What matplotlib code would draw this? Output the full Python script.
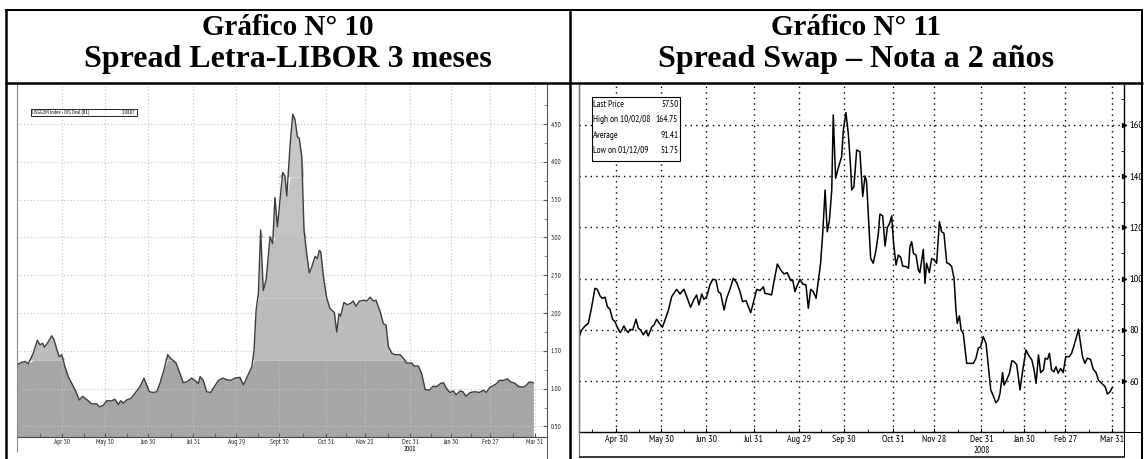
import numpy as np
import matplotlib
matplotlib.use("Agg")
import matplotlib.pyplot as plt
from matplotlib.lines import Line2D
from matplotlib.patches import Rectangle
import matplotlib.transforms as mtransforms
import logging
logging.getLogger("matplotlib.font_manager").setLevel(logging.ERROR)

# ---------------- data ----------------
tick_idx = [22, 43, 64, 86, 107, 128, 151, 170, 192, 212, 231, 253]
left_tick_labels = ["Apr 30", "May 30", "Jun 30", "Jul 31", "Aug 29", "Sept 30",
                    "Oct 31", "Nov 28", "Dec 31", "Jan 30", "Feb 27", "Mar 31"]
right_tick_labels = ["Apr 30", "May 30", "Jun 30", "Jul 31", "Aug 29", "Sep 30",
                     "Oct 31", "Nov 28", "Dec 31", "Jan 30", "Feb 27", "Mar 31"]
year_label = "2008"

left_yticks = [0.5, 1.0, 1.5, 2.0, 2.5, 3.0, 3.5, 4.0, 4.5]
right_yticks = [60, 80, 100, 120, 140, 160]

# Spread Letra-LIBOR 3m (trading-day index, value)
left_x = [0.0, 1.3, 3.8, 5.4, 7.8, 9.8, 11.1, 12.4, 13.2, 14.7, 16.8, 17.9, 19.2, 20.5,
          21.7, 23.3, 24.9, 26.6, 28.7, 30.3, 31.9, 34.2, 36.3, 38.8, 40.1, 42.0, 43.7,
          46.1, 47.7, 49.4, 50.5, 51.8, 53.4, 55.4, 57.5, 60.0, 61.9, 63.2, 64.5, 66.5,
          68.1, 69.7, 71.7, 73.5, 74.9, 76.3, 77.6, 79.5, 81.1, 82.8, 85.2, 86.8, 88.5,
          89.3, 90.9, 92.5, 94.5, 96.6, 98.3, 100.4, 102.3, 104.3, 106.4, 108.8, 110.5,
          112.4, 114.6, 115.7, 116.7, 117.8, 118.9, 120.2, 121.6, 123.5, 124.8, 125.9,
          127.1, 129.7, 130.8, 131.7, 133.3, 134.6, 135.7, 136.9, 137.8, 139.0, 140.1,
          141.4, 142.7, 143.9, 145.5, 146.6, 147.6, 148.3, 149.6, 151.2, 152.8, 154.1,
          154.9, 156.1, 157.2, 158.0, 159.6, 161.3, 162.9, 164.2, 165.5, 167.2, 169.4,
          170.8, 172.4, 174.0, 175.3, 177.3, 178.9, 180.2, 181.3, 183.0, 184.6, 187.1,
          188.7, 190.3, 192.8, 193.9, 196.0, 197.6, 199.3, 201.4, 203.0, 205.0, 206.9,
          208.2, 209.8, 211.5, 213.1, 214.4, 216.4, 217.7, 219.3, 221.3, 223.7, 225.8,
          227.8, 229.1, 231.0, 232.7, 234.3, 235.6, 237.6, 239.5, 241.1, 243.3, 244.9,
          247.3, 248.9, 250.2, 252.2]
left_v = [1.31, 1.34, 1.36, 1.33, 1.47, 1.64, 1.58, 1.60, 1.55, 1.60, 1.70, 1.65, 1.53, 1.42,
          1.45, 1.29, 1.16, 1.07, 0.96, 0.85, 0.90, 0.85, 0.80, 0.80, 0.76, 0.78, 0.84,
          0.84, 0.86, 0.79, 0.84, 0.81, 0.85, 0.87, 0.94, 1.03, 1.14, 1.05, 0.96, 0.95,
          0.96, 1.07, 1.25, 1.45, 1.40, 1.37, 1.34, 1.20, 1.08, 1.09, 1.14, 1.11, 1.07,
          1.16, 1.11, 0.96, 0.95, 1.04, 1.11, 1.14, 1.12, 1.11, 1.14, 1.15, 1.05,
          1.16, 1.29, 1.51, 2.04, 2.26, 3.10, 2.30, 2.44, 3.01, 2.92, 3.53,
          3.14, 3.86, 3.81, 3.55, 4.22, 4.63, 4.56, 4.33, 4.31, 4.07, 3.10,
          2.79, 2.53, 2.61, 2.75, 2.72, 2.83, 2.81, 2.48, 2.20, 2.06, 2.03,
          2.01, 1.75, 1.99, 1.96, 2.14, 2.11, 2.13, 2.16, 2.09, 2.16, 2.17,
          2.16, 2.21, 2.16, 2.17, 2.02, 1.86, 1.84, 1.56, 1.47, 1.45, 1.45,
          1.40, 1.34, 1.34, 1.30, 1.30, 1.20, 0.99, 0.98, 1.03, 1.03, 1.07,
          1.08, 1.00, 0.95, 0.97, 0.92, 0.97, 0.96, 0.90, 0.95, 0.96, 0.95,
          0.98, 0.95, 1.02, 1.04, 1.07, 1.11, 1.11, 1.13, 1.09, 1.07, 1.03,
          1.02, 1.05, 1.09, 1.08]

# Spread Swap - Nota 2 años (trading-day index, value)
right_x = [4.9, 6.0, 7.6, 9.1, 10.7, 12.2, 13.3, 14.6, 15.6, 16.9, 18.0, 19.2, 20.4, 21.5,
           22.6, 23.9, 24.6, 25.7, 26.7, 27.7, 28.5, 29.8, 31.3, 32.4, 33.5, 34.7, 36.0,
           37.0, 38.6, 39.7, 40.9, 42.2, 43.6, 44.8, 46.4, 47.9, 50.2, 51.8, 53.6, 55.2,
           56.7, 58.3, 59.5, 60.6, 61.9, 62.9, 64.2, 65.7, 67.0, 68.5, 69.6, 70.7, 72.3,
           73.5, 75.0, 76.6, 78.2, 79.7, 80.9, 82.5, 83.6, 84.7, 86.2, 87.5, 89.0, 90.6,
           91.3, 92.9, 94.4, 95.5, 97.1, 98.6, 100.2, 101.7, 103.3, 104.2, 105.3, 106.1,
           107.6, 108.9, 110.4, 111.5, 112.6, 113.8, 115.1, 116.2, 117.2, 118.2, 119.3,
           120.3, 121.3, 122.4, 123.1, 124.2, 125.4, 127.0, 127.8, 129.0, 130.1, 131.2,
           131.7, 132.7, 134.0, 135.5, 136.8, 137.9, 138.6, 139.4, 140.5, 141.7, 143.0,
           144.1, 144.8, 146.1, 147.2, 148.3, 149.2, 150.3, 151.1, 152.3, 153.4, 154.5,
           155.4, 157.0, 158.1, 158.8, 159.6, 160.4, 161.6, 162.7, 163.4, 165.0, 165.8,
           166.5, 167.8, 168.9, 170.0, 171.2, 172.5, 173.5, 174.6, 175.9, 177.1, 178.2,
           179.3, 180.2, 180.8, 181.8, 182.6, 183.6, 185.2, 186.7, 188.3, 189.5, 190.6,
           191.7, 192.9, 194.2, 195.3, 196.4, 197.6, 198.8, 199.9, 200.7, 201.9, 202.6,
           203.8, 205.1, 206.2, 207.2, 208.5, 210.0, 211.3, 212.8, 213.9, 215.5, 216.5,
           217.5, 218.6, 219.6, 220.9, 221.7, 222.8, 223.7, 224.7, 225.8, 226.7, 227.8,
           228.9, 230.1, 231.3, 232.9, 234.0, 235.1, 236.3, 237.2, 238.2, 239.1, 240.2,
           241.3, 242.8, 244.1, 245.4, 246.5, 248.0, 249.6, 250.7, 251.9, 253.0]
right_v = [77.3, 79.9, 81.5, 82.5, 89.0, 96.2, 95.8, 93.2, 92.3, 92.7, 89.0, 88.0, 84.1, 83.2,
           81.0, 78.9, 79.7, 81.5, 79.9, 78.9, 80.2, 79.9, 84.1, 80.6, 79.9, 78.0, 79.7,
           77.6, 81.0, 81.9, 84.1, 82.5, 81.0, 83.8, 87.7, 92.9, 95.8, 94.0, 95.8, 92.3,
           88.8, 91.9, 93.6, 89.7, 94.0, 91.9, 92.9, 97.5, 99.7, 99.5, 94.9, 94.2, 87.7,
           92.3, 95.8, 100.1, 98.4, 94.9, 91.0, 91.4, 89.0, 86.7, 91.6, 95.8, 95.3, 96.8,
           94.2, 94.0, 93.6, 98.8, 105.7, 103.4, 101.8, 102.3, 99.2, 99.5, 94.9, 96.8,
           99.7, 97.9, 97.5, 88.4, 95.8, 94.9, 92.3, 99.5, 106.0, 117.7, 134.6,
           118.3, 122.6, 134.6, 163.9, 139.2, 143.1, 147.6, 158.0, 164.8, 156.7, 143.1,
           134.6, 135.9, 150.2, 149.6, 132.0, 140.1, 137.9, 125.5, 107.9, 106.0, 111.2,
           117.7, 125.2, 124.5, 112.7, 120.0, 121.3, 124.5, 114.4, 105.3, 109.2, 108.3,
           104.9, 104.7, 104.0, 112.5, 114.4, 109.9, 109.2, 103.4, 102.3, 111.4, 98.1,
           106.0, 102.3, 107.9, 107.3, 106.0, 122.2, 118.3, 117.7, 106.2, 105.7, 104.7,
           100.1, 87.7, 82.5, 85.4, 79.9, 78.6, 66.9, 66.9, 66.9, 68.9, 72.8,
           73.4, 77.3, 74.7, 65.6, 56.5, 54.1, 51.5, 52.6, 55.2, 63.3, 58.4,
           60.4, 63.0, 67.9, 67.6, 66.3, 56.5, 64.3, 72.1, 70.2, 68.2, 64.6,
           59.1, 70.2, 63.3, 64.3, 68.9, 68.5, 70.8, 64.3, 63.6, 65.6, 63.0,
           64.9, 63.3, 69.5, 69.5, 70.8, 73.7, 77.3, 80.2, 74.7, 69.5, 66.9,
           68.9, 68.5, 64.6, 63.3, 60.4, 59.1, 57.8, 54.9, 55.8, 57.5]

legend_rows = [("Last Price", "57.50"), ("High on 10/02/08", "164.75"),
               ("Average", "91.41"), ("Low on 01/12/09", "51.75")]
left_legend = ("USGG3M Index - OIS Oval (R1)", "1.0807")

title_left = ["Gráfico N° 10", "Spread Letra-LIBOR 3 meses"]
title_right = ["Gráfico N° 11", "Spread Swap \u2013 Nota a 2 años"]

# ---------------- figure ----------------
W, H = 1144, 459
fig = plt.figure(figsize=(W / 100, H / 100), dpi=100)
fig.patch.set_facecolor("white")
NARROW = ["Liberation Sans Narrow", "Arial Narrow", "PT Sans Narrow", "Roboto Condensed",
          "Archivo Narrow", "IBM Plex Sans Condensed", "DejaVu Sans"]
SERIF = ["Liberation Serif", "DejaVu Serif"]


def fx(px):
    return px / W


def fy(py):
    return 1 - py / H


def pt(px):
    return px * 72 / 100


def hline(y, x0, x1, lw, color="black"):
    fig.add_artist(Line2D([fx(x0), fx(x1)], [fy(y), fy(y)], lw=pt(lw), color=color,
                          solid_capstyle="butt"))


def vline(x, y0, y1, lw, color="black"):
    fig.add_artist(Line2D([fx(x), fx(x)], [fy(y0), fy(y1)], lw=pt(lw), color=color,
                          solid_capstyle="butt"))


mids = [(a + b) / 2 for a, b in zip(tick_idx[:-1], tick_idx[1:])]

# ---------------- left chart ----------------
L0, L1, LT, LB = 17.3, 546.7, 84.0, 436.7
axL = fig.add_axes([fx(L0), fy(LB), fx(L1) - fx(L0), fy(LT) - fy(LB)])
axL.set_xlim(0, 258.7)
axL.set_ylim(0.365, 5.03)
lx = np.array(left_x)
lv = np.array(left_v)
bands = [(0.0, 1.38, "#a6a6a6"), (1.38, 2.2, "#bcbcbc"), (2.2, 3.0, "#bfbfbf"),
         (3.0, 3.8, "#c3c3c3"), (3.8, 6.0, "#c8c8c8")]
for lo, hi, col in bands:
    axL.fill_between(lx, np.clip(lv, lo, hi), lo, color=col, lw=0, zorder=1)
axL.plot(lx, lv, color="#3c3c3c", lw=1.0, zorder=3)
axL.set_xticks(tick_idx)
axL.set_xticklabels(left_tick_labels)
axL.set_xticks([11] + mids, minor=True)
axL.set_yticks(left_yticks)
axL.set_yticklabels(["%.2f" % v for v in left_yticks])
axL.yaxis.tick_right()
axL.set_yticks(np.arange(0.5, 5.0, 0.25), minor=True)
axL.grid(True, which="major", color="#c4c4c4", lw=0.8, ls=(0, (1, 2)), zorder=0)
for lab in axL.get_xticklabels() + axL.get_yticklabels():
    lab.set_fontfamily(NARROW)
    lab.set_fontsize(5)
    lab.set_color("#222222")
axL.tick_params(axis="x", which="both", direction="in", length=3, pad=2, color="#555555")
axL.tick_params(axis="y", which="major", direction="in", length=3, pad=3, color="#555555")
axL.tick_params(axis="y", which="minor", direction="in", length=2, color="#777777")
axL.text(192, -0.025, year_label, transform=mtransforms.blended_transform_factory(
    axL.transData, axL.transAxes), ha="center", va="top", fontsize=5, family=NARROW)
axL.spines["top"].set_visible(False)
axL.spines["left"].set_color("#888888")
axL.spines["right"].set_color("#555555")
axL.spines["bottom"].set_color("#444444")
for s in ["left", "right", "bottom"]:
    axL.spines[s].set_linewidth(0.8)
axL.set_facecolor("white")
# left legend box
fig.add_artist(Rectangle((fx(30.7), fy(115.7)), fx(136.7) - fx(30.7), fy(109) - fy(115.7),
                         fill=False, ec="black", lw=0.6))
fig.text(fx(32), fy(112.4), left_legend[0], fontsize=4, family=NARROW, va="center")
fig.text(fx(135.5), fy(112.4), left_legend[1], fontsize=4, family=NARROW, va="center",
         ha="right")
vline(L0, LT, 452, 1.0, "#888888")
vline(L1, 436.7, 460, 1.0, "#555555")

# ---------------- right chart ----------------
R0, R1, RT, RB = 578.7, 1124.0, 85.0, 431.7
axR = fig.add_axes([fx(R0), fy(RB), fx(R1) - fx(R0), fy(RT) - fy(RB)])
axR.set_xlim(4.64, 258.4)
axR.set_ylim(40.2, 175.6)
axR.plot(right_x, right_v, color="black", lw=1.1, zorder=3)
axR.set_xticks(tick_idx)
axR.set_xticklabels(right_tick_labels)
axR.set_xticks([11] + mids, minor=True)
axR.set_yticks(right_yticks)
axR.set_yticklabels([str(v) for v in right_yticks])
axR.yaxis.tick_right()
axR.set_yticks(np.arange(50, 175, 10), minor=True)
axR.grid(True, which="major", color="black", lw=1.0, ls=(0, (1, 3)), zorder=0)
for lab in axR.get_xticklabels():
    lab.set_fontfamily(NARROW)
    lab.set_fontsize(7)
for lab in axR.get_yticklabels():
    lab.set_fontfamily(NARROW)
    lab.set_fontsize(7.5)
axR.tick_params(axis="x", which="major", direction="in", length=3, pad=2.5)
axR.tick_params(axis="x", which="minor", direction="in", length=2)
axR.tick_params(axis="y", which="major", direction="in", length=0, pad=4)
axR.tick_params(axis="y", which="minor", direction="in", length=2)
axR.scatter([1.0] * len(right_yticks), right_yticks, marker=">", s=8, color="black",
            transform=mtransforms.blended_transform_factory(axR.transAxes, axR.transData),
            clip_on=False, zorder=5)
axR.text(192, -0.042, year_label, transform=mtransforms.blended_transform_factory(
    axR.transData, axR.transAxes), ha="center", va="top", fontsize=6.5, family=NARROW)
axR.spines["top"].set_visible(False)
axR.spines["left"].set_color("#777777")
for s in ["left", "right", "bottom"]:
    axR.spines[s].set_linewidth(1.0)
# right legend
fig.add_artist(Rectangle((fx(591.7), fy(160.7)), fx(679.5) - fx(591.7), fy(96.7) - fy(160.7),
                         fill=True, fc="white", ec="black", lw=0.8, zorder=5))
for i, (a, b) in enumerate(legend_rows):
    yy = 104.5 + i * 15.3
    fig.text(fx(593), fy(yy), a, fontsize=6.7, family=NARROW, va="center", zorder=6)
    fig.text(fx(678.3), fy(yy), b, fontsize=6.7, family=NARROW, va="center", ha="right",
             zorder=6)
vline(R0, RT, 457, 1.2, "#777777")
hline(457, R0, R1, 1.5)
vline(R1, RB, 457, 1.0)
hline(RB, R1, 1142, 1.0)

# ---------------- table & titles ----------------
hline(10, 5, 1143, 2.0)
hline(82.5, 5, 1143, 2.5)
vline(6, 9, 459, 2.5)
vline(569.5, 9, 459, 2.5)
vline(1142, 9, 459, 2.0)

for cx, lines in [(287.5, title_left), (856, title_right)]:
    fig.text(fx(cx), fy(35), lines[0], ha="center", va="baseline", fontsize=21,
             fontweight="bold", family=SERIF)
    fig.text(fx(cx), fy(67), lines[1], ha="center", va="baseline", fontsize=23,
             fontweight="bold", family=SERIF)

fig.savefig("out.png", dpi=100, facecolor="white")
